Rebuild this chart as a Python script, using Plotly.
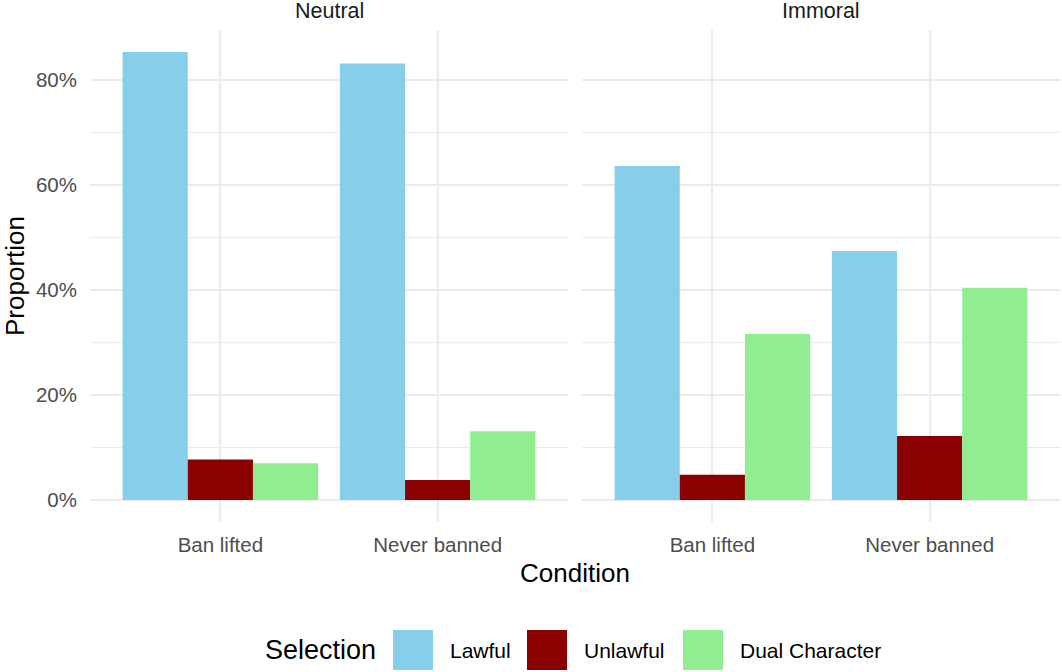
import plotly.graph_objects as go

# ---- data (proportions) ----
conditions = ["Ban lifted", "Never banned"]
panels = ["Neutral", "Immoral"]
selections = ["Lawful", "Unlawful", "Dual Character"]

lawful_neutral = [0.853, 0.831]
unlawful_neutral = [0.077, 0.038]
dual_neutral = [0.070, 0.131]

lawful_immoral = [0.636, 0.474]
unlawful_immoral = [0.048, 0.122]
dual_immoral = [0.316, 0.404]

colors = {"Lawful": "#87CEEB", "Unlawful": "#8B0000", "Dual Character": "#90EE90"}

FONT = "Liberation Sans, Arial, sans-serif"
W, H = 1062, 672
GRID = "#EBEBEB"

panel_data = {
    "Neutral": [lawful_neutral, unlawful_neutral, dual_neutral],
    "Immoral": [lawful_immoral, unlawful_immoral, dual_immoral],
}

fig = go.Figure()

for i, panel in enumerate(panels):
    xa = "x" if i == 0 else "x2"
    ya = "y" if i == 0 else "y2"
    for sel, vals in zip(selections, panel_data[panel]):
        fig.add_trace(go.Bar(
            x=conditions, y=vals, name=sel,
            marker=dict(color=colors[sel], line=dict(width=0)),
            xaxis=xa, yaxis=ya, showlegend=False,
        ))

# ggplot-style 5% expansion
ymax = max(lawful_neutral + lawful_immoral)
yr = [-0.05 * ymax, 1.05 * ymax]

x1_dom = [90 / W, 568 / W]
x2_dom = [582 / W, 1060 / W]
y_dom = [1 - 522.4 / H, 1 - 29.6 / H]

xcommon = dict(
    type="category", range=[-0.6, 1.6], showgrid=True, gridcolor=GRID, gridwidth=2,
    zeroline=False, showline=False, ticks="",
    tickfont=dict(family=FONT, size=20.5, color="#4D4D4D"), ticklabelstandoff=8,
)
ycommon = dict(
    range=yr, tickvals=[0, 0.2, 0.4, 0.6, 0.8], tickformat=".0%",
    showgrid=True, gridcolor=GRID, gridwidth=2, zeroline=False, showline=False, ticks="",
    minor=dict(tickvals=[0.1, 0.3, 0.5, 0.7], showgrid=True, gridcolor=GRID, gridwidth=1.2),
    tickfont=dict(family=FONT, size=20.5, color="#4D4D4D"),
)

fig.update_layout(
    width=W, height=H,
    margin=dict(l=0, r=0, t=0, b=0),
    paper_bgcolor="white", plot_bgcolor="white",
    barmode="group", bargap=0.1, bargroupgap=0,
    font=dict(family=FONT),
    xaxis=dict(domain=x1_dom, anchor="y", **xcommon),
    xaxis2=dict(domain=x2_dom, anchor="y2", **xcommon),
    yaxis=dict(domain=y_dom, anchor="x", ticklabelstandoff=12, **ycommon),
    yaxis2=dict(domain=y_dom, anchor="x2", matches="y", showticklabels=False, **ycommon),
)

annotations = []
# facet strip labels
for dom, label in zip([x1_dom, x2_dom], panels):
    annotations.append(dict(
        text=label, x=(dom[0] + dom[1]) / 2, y=1 - 11 / H, xref="paper", yref="paper",
        showarrow=False, xanchor="center", yanchor="middle",
        font=dict(family=FONT, size=21.5, color="#1A1A1A"),
    ))
# axis titles
annotations.append(dict(
    text="Condition", x=(x1_dom[0] + x2_dom[1]) / 2, y=1 - 573 / H,
    xref="paper", yref="paper", showarrow=False, xanchor="center", yanchor="middle",
    font=dict(family=FONT, size=26, color="black"),
))
annotations.append(dict(
    text="Proportion", x=15 / W, y=(y_dom[0] + y_dom[1]) / 2, textangle=-90,
    xref="paper", yref="paper", showarrow=False, xanchor="center", yanchor="middle",
    font=dict(family=FONT, size=26, color="black"),
))

# legend drawn ggplot-style at the bottom
shapes = []
leg_y = 650
annotations.append(dict(
    text="Selection", x=263 / W, y=1 - leg_y / H, xref="paper", yref="paper",
    showarrow=False, xanchor="left", yanchor="middle",
    font=dict(family=FONT, size=27, color="black"),
))
key_left = [393, 527, 683]
for sel, kx in zip(selections, key_left):
    shapes.append(dict(
        type="rect", xref="paper", yref="paper",
        x0=kx / W, x1=(kx + 40) / W, y0=1 - 670 / H, y1=1 - 630 / H,
        fillcolor=colors[sel], line=dict(width=0),
    ))
    annotations.append(dict(
        text=sel, x=(kx + 55) / W, y=1 - leg_y / H, xref="paper", yref="paper",
        showarrow=False, xanchor="left", yanchor="middle",
        font=dict(family=FONT, size=21, color="black"),
    ))

fig.update_layout(annotations=annotations, shapes=shapes)

fig.write_html("out.html", config={"displayModeBar": False},
               post_script="document.body.style.margin='0';")
